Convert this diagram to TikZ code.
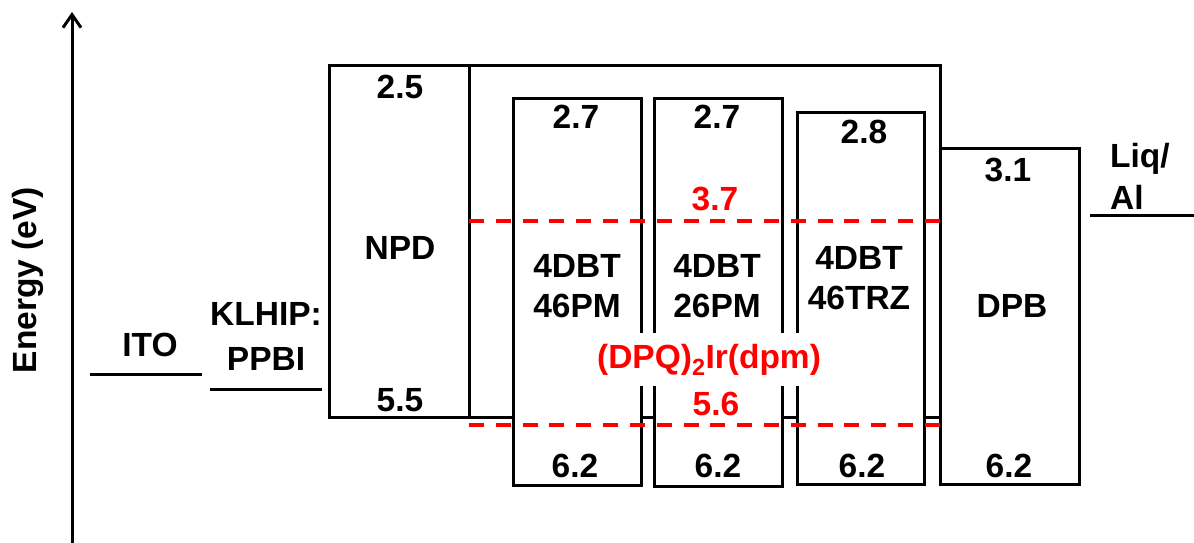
\documentclass[tikz,border=0pt]{standalone}
\usepackage{fontspec}
\setmainfont{Liberation Sans}
\usetikzlibrary{arrows.meta}
\definecolor{dopred}{RGB}{255,0,0}

\begin{document}
\begin{tikzpicture}[x=1pt,y=-1pt,
  lvl/.style={line width=3pt},
  layerbox/.style={lvl, fill=white},
  val/.style={font=\bfseries\fontsize{33.5}{40}\selectfont, inner sep=0pt},
  lbl/.style={val, align=center},
  redval/.style={val, text=dopred},
  redline/.style={draw=dopred, line width=3.5pt, dash pattern=on 15pt off 11.82pt},
]
\useasboundingbox (0,0) rectangle (1194,543);

% energy axis
\coordinate (axis-foot) at (72,546);
\coordinate (axis-tip) at (72,12);
\draw[lvl, -{Straight Barb[length=13pt,width=18pt]}] (axis-foot) -- (axis-tip);
\node[val, rotate=90] (ylabel) at (28,280) {Energy (eV)};

% electrode and injection levels
\coordinate (ito-l) at (90,374);   \coordinate (ito-r) at (202,374);
\coordinate (hil-l) at (210,389);  \coordinate (hil-r) at (322,389);
\coordinate (cat-l) at (1090,215); \coordinate (cat-r) at (1196,215);
\draw[lvl] (ito-l) -- (ito-r);
\draw[lvl] (hil-l) -- (hil-r);
\draw[lvl] (cat-l) -- (cat-r);

% emitting-layer frame and NPD
\coordinate (host-nw) at (469,66);  \coordinate (host-se) at (940,417);
\coordinate (npd-nw) at (329,66);   \coordinate (npd-se) at (469,417);
\draw[lvl] (host-nw) rectangle (host-se);
\draw[lvl] (npd-nw) rectangle (npd-se);

% host materials and DPB
\coordinate (pm46-nw) at (513,98);  \coordinate (pm46-se) at (641,485);
\coordinate (pm26-nw) at (654,98);  \coordinate (pm26-se) at (782,486);
\coordinate (trz-nw) at (797,112);  \coordinate (trz-se) at (924,484);
\coordinate (dpb-nw) at (940,148);  \coordinate (dpb-se) at (1079,484);
\draw[layerbox] (pm46-nw) rectangle (pm46-se);
\draw[layerbox] (pm26-nw) rectangle (pm26-se);
\draw[layerbox] (trz-nw) rectangle (trz-se);
\draw[layerbox] (dpb-nw) rectangle (dpb-se);

% dopant levels
\node[redval, fill=white, inner xsep=1pt, minimum height=53pt, anchor=base] (dopant) at (709,368) {(DPQ)\textsubscript{2}Ir(dpm)};
\coordinate (dop-lumo-l) at (469,221); \coordinate (dop-lumo-r) at (940,221);
\coordinate (dop-homo-l) at (469,425); \coordinate (dop-homo-r) at (940,425);
\draw[redline] (dop-lumo-l) -- (dop-lumo-r);
\draw[redline] (dop-homo-l) -- (dop-homo-r);
\node[redval] (dop-lumo) at (715,199) {3.7};
\node[redval] (dop-homo) at (716,404) {5.6};

% layer labels and energies
\node[val] (ito-name) at (150,345) {ITO};
\node[lbl, font=\bfseries\fontsize{33.5}{45}\selectfont] (hil-name) at (266,336) {KLHIP:\\PPBI};
\node[lbl, align=left, anchor=west, font=\bfseries\fontsize{33.5}{42}\selectfont] (cat-name) at (1110,176) {Liq/\\Al};

\node[val] (npd-lumo) at (400,87) {2.5};
\node[val] (npd-name) at (400,248) {NPD};
\node[val] (npd-homo) at (400,400) {5.5};

\node[val] (pm46-lumo) at (576,117) {2.7};
\node[lbl] (pm46-name) at (577,286) {4DBT\\46PM};
\node[val] (pm46-homo) at (575,466) {6.2};

\node[val] (pm26-lumo) at (717,117) {2.7};
\node[lbl] (pm26-name) at (717,286) {4DBT\\26PM};
\node[val] (pm26-homo) at (718,466) {6.2};

\node[val] (trz-lumo) at (864,132) {2.8};
\node[lbl] (trz-name) at (859,278) {4DBT\\46TRZ};
\node[val] (trz-homo) at (862,466) {6.2};

\node[val] (dpb-lumo) at (1008,170) {3.1};
\node[val] (dpb-name) at (1012,306) {DPB};
\node[val] (dpb-homo) at (1009,466) {6.2};
\end{tikzpicture}
\end{document}
